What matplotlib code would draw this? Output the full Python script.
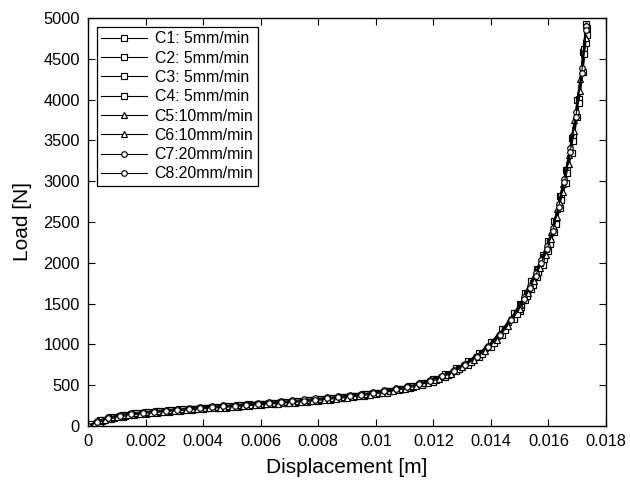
import matplotlib

matplotlib.use("Agg")
import matplotlib.pyplot as plt

plt.rcParams["font.family"] = ["Liberation Sans", "DejaVu Sans"]

# displacement samples [m], one set per pair of specimens
x_a = [0, 0.0004, 0.0008, 0.0012, 0.0016, 0.002, 0.0024, 0.0028, 0.0032, 0.0036,
       0.004, 0.0044, 0.0048, 0.0052, 0.0056, 0.006, 0.0064, 0.0068, 0.0072, 0.0076,
       0.008, 0.0084, 0.0088, 0.0092, 0.0096, 0.01, 0.0104, 0.0108, 0.0112, 0.0116,
       0.012, 0.0124, 0.0128, 0.0132, 0.0136, 0.014, 0.0144, 0.0148,
       0.015, 0.0152, 0.0154, 0.0156, 0.0158, 0.016, 0.0162, 0.0164, 0.0166, 0.0168,
       0.017, 0.0172, 0.0173]
x_b = [0, 0.0001, 0.0005, 0.0009, 0.0013, 0.0017, 0.0021, 0.0025, 0.0029, 0.0033,
       0.0037, 0.0041, 0.0045, 0.0049, 0.0053, 0.0057, 0.0061, 0.0065, 0.0069, 0.0073,
       0.0077, 0.0081, 0.0085, 0.0089, 0.0093, 0.0097, 0.0101, 0.0105, 0.0109, 0.0113,
       0.0117, 0.0121, 0.0125, 0.0129, 0.0133, 0.0137, 0.0141, 0.0145, 0.0149,
       0.01505, 0.01525, 0.01545, 0.01565, 0.01585, 0.01605, 0.01625, 0.01645, 0.01665,
       0.01685, 0.01705, 0.01725, 0.01733]
x_c = [0, 0.0002, 0.0006, 0.001, 0.0014, 0.0018, 0.0022, 0.0026, 0.003, 0.0034,
       0.0038, 0.0042, 0.0046, 0.005, 0.0054, 0.0058, 0.0062, 0.0066, 0.007, 0.0074,
       0.0078, 0.0082, 0.0086, 0.009, 0.0094, 0.0098, 0.0102, 0.0106, 0.011, 0.0114,
       0.0118, 0.0122, 0.0126, 0.013, 0.0134, 0.0138, 0.0142, 0.0146, 0.015,
       0.0153, 0.0155, 0.0157, 0.0159, 0.0161, 0.0163, 0.0165, 0.0167, 0.0169, 0.0171,
       0.0173]
x_d = [0, 0.0003, 0.0007, 0.0011, 0.0015, 0.0019, 0.0023, 0.0027, 0.0031, 0.0035,
       0.0039, 0.0043, 0.0047, 0.0051, 0.0055, 0.0059, 0.0063, 0.0067, 0.0071, 0.0075,
       0.0079, 0.0083, 0.0087, 0.0091, 0.0095, 0.0099, 0.0103, 0.0107, 0.0111, 0.0115,
       0.0119, 0.0123, 0.0127, 0.0131, 0.0135, 0.0139, 0.0143, 0.0147,
       0.01515, 0.01535, 0.01555, 0.01575, 0.01595, 0.01615, 0.01635, 0.01655, 0.01675,
       0.01695, 0.01715, 0.01732]

# load [N] per specimen
c1 = [0, 70, 115, 140, 158, 172, 183, 194, 204, 214, 224, 234, 244, 254, 264, 274, 284, 294, 305, 316,
      329, 342, 356, 372, 390, 410, 433, 458, 488, 528, 575, 635, 710, 795, 900, 1027, 1185, 1383,
      1494, 1627, 1772, 1926, 2091, 2266, 2513, 2822, 3142, 3533, 3996, 4584, 4930]
c2 = [0, 35, 80, 110, 132, 148, 161, 173, 185, 196, 206, 216, 226, 236, 246, 256, 266, 276, 287, 298,
      310, 323, 337, 352, 369, 389, 410, 435, 462, 500, 545, 600, 668, 750, 850, 970, 1120, 1310,
      1414, 1541, 1677, 1823, 1979, 2145, 2379, 2672, 2974, 3344, 3783, 4340, 4690]
c3 = [0, 12, 62, 102, 127, 146, 160, 172, 184, 195, 205, 215, 225, 235, 245, 255, 265, 275, 285, 296,
      307, 320, 334, 348, 364, 382, 403, 425, 451, 482, 522, 570, 630, 700, 790, 897, 1025, 1190, 1390,
      1480, 1612, 1755, 1908, 2070, 2258, 2512, 2815, 3140, 3540, 4010, 4620, 4880]
c4 = [0, 20, 72, 112, 136, 154, 168, 180, 192, 203, 213, 223, 233, 243, 253, 263, 273, 283, 293, 304,
      315, 328, 341, 355, 370, 388, 408, 430, 455, 484, 522, 566, 624, 694, 783, 888, 1014, 1179, 1376,
      1460, 1591, 1731, 1881, 2041, 2226, 2477, 2775, 3098, 3489, 3955, 4556, 4790]
c5 = [0, 40, 88, 121, 143, 160, 174, 186, 197, 208, 218, 228, 238, 248, 258, 268, 278, 288, 298, 309,
      321, 334, 348, 363, 380, 399, 420, 444, 471, 506, 550, 601, 666, 745, 840, 953, 1097, 1274, 1486,
      1691, 1840, 1999, 2168, 2378, 2655, 2967, 3321, 3746, 4254, 4920]
c6 = [0, 22, 72, 106, 130, 147, 161, 173, 184, 195, 205, 215, 225, 235, 245, 255, 265, 275, 285, 296,
      308, 321, 335, 349, 366, 385, 406, 429, 456, 490, 532, 581, 643, 720, 812, 921, 1059, 1231, 1436,
      1634, 1777, 1931, 2094, 2297, 2564, 2866, 3208, 3618, 4109, 4760]
c7 = [0, 60, 110, 140, 160, 176, 189, 201, 212, 223, 233, 243, 253, 263, 273, 283, 293, 303, 314, 325,
      337, 350, 364, 378, 395, 414, 436, 460, 487, 523, 566, 615, 682, 763, 862, 982, 1132, 1316,
      1579, 1719, 1869, 2030, 2200, 2428, 2718, 3031, 3402, 3842, 4386, 4900]
c8 = [0, 48, 97, 127, 148, 164, 177, 189, 200, 210, 220, 230, 240, 250, 260, 270, 280, 290, 301, 312,
      324, 337, 351, 366, 383, 402, 424, 448, 475, 512, 556, 607, 672, 752, 849, 968, 1115, 1296,
      1556, 1693, 1841, 2000, 2168, 2392, 2678, 2987, 3352, 3786, 4321, 4850]

xs = [x_a, x_a, x_b, x_b, x_c, x_c, x_d, x_d]
loads = [c1, c2, c3, c4, c5, c6, c7, c8]
labels = ["C1: 5mm/min", "C2: 5mm/min", "C3: 5mm/min", "C4: 5mm/min",
          "C5:10mm/min", "C6:10mm/min", "C7:20mm/min", "C8:20mm/min"]
markers = ["s", "s", "s", "s", "^", "^", "o", "o"]

fig = plt.figure(figsize=(6.3, 4.82), dpi=100)
ax = fig.add_axes([0.1397, 0.1162, 0.8223, 0.8465])

for x, y, lab, m in zip(xs, loads, labels, markers):
    ax.plot(x, y, "-", marker=m, color="black", lw=0.8, ms=4.0,
            mfc="white", mec="black", mew=0.85, label=lab)

ax.set_xlim(0, 0.018)
ax.set_ylim(0, 5000)
ax.set_xticks([0, 0.002, 0.004, 0.006, 0.008, 0.01, 0.012, 0.014, 0.016, 0.018])
ax.set_xticklabels(["0", "0.002", "0.004", "0.006", "0.008", "0.01", "0.012", "0.014", "0.016", "0.018"])
ax.set_yticks(range(0, 5001, 500))
ax.tick_params(direction="in", top=True, right=True, length=5, labelsize=11.8, pad=6)
for s in ax.spines.values():
    s.set_linewidth(1.0)

ax.set_xlabel("Displacement [m]", fontsize=15, labelpad=6)
ax.set_ylabel("Load [N]", fontsize=15, labelpad=8)

leg = ax.legend(loc="upper left", fontsize=11.4, frameon=True, fancybox=False,
                edgecolor="black", framealpha=1, handlelength=2.9, borderpad=0.3,
                labelspacing=0.27, handletextpad=0.45, borderaxespad=0.55)
leg.get_frame().set_linewidth(0.9)

fig.savefig("out.png", dpi=100)
